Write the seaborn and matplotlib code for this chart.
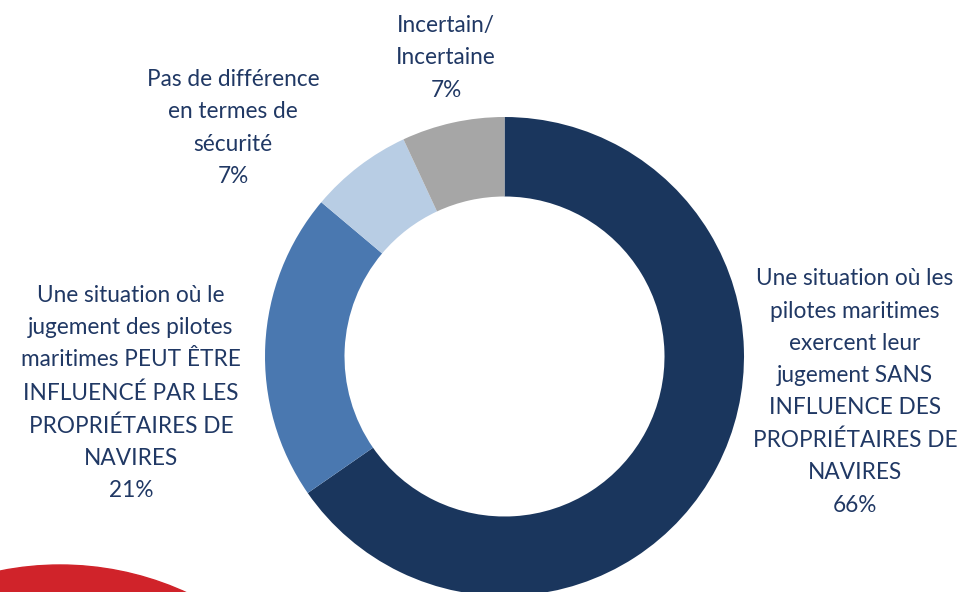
import matplotlib
matplotlib.use('Agg')
import matplotlib.pyplot as plt
import matplotlib.patches as mpatches
import seaborn as sns


sns.set_theme(style='white')
plt.rcParams['font.family'] = ['Lato', 'DejaVu Sans']

# data, clockwise from 12 o'clock
labels = [
    'Une situation où les\npilotes maritimes\nexercent leur\njugement SANS\nINFLUENCE DES\nPROPRIÉTAIRES DE\nNAVIRES',
    'Une situation où le\njugement des pilotes\nmaritimes PEUT ÊTRE\nINFLUENCÉ PAR LES\nPROPRIÉTAIRES DE\nNAVIRES',
    'Pas de différence\nen termes de\nsécurité',
    'Incertain/\nIncertaine',
]
shares = [66, 21, 7, 7]
colors = ['#1A365D', '#4A78B0', '#B8CDE4', '#A6A6A6']
text_color = '#203864'

# label anchor positions in pixels (x, y from top)
label_pos = [(855, 392), (131, 393), (233, 128), (446, 58)]


fig = plt.figure(figsize=(9.69, 5.92), dpi=100)
ax = fig.add_axes([0, 0, 1, 1])

# red decoration at the bottom left
ax.add_patch(mpatches.Circle((60, 592 - 565 - 303), 303, color='#D0232A', zorder=0))

ax.pie(
    shares,
    colors=colors,
    startangle=90,
    counterclock=False,
    center=(504.5, 592 - 356.5),
    radius=239.5,
    wedgeprops=dict(width=79.5, linewidth=0),
    frame=True,
)
ax.set_xlim(0, 969)
ax.set_ylim(0, 592)
ax.set_aspect('equal')
ax.axis('off')

for lab, val, (x, y) in zip(labels, shares, label_pos):
    ax.text(
        x, 592 - y, f'{lab}\n{val}%',
        ha='center', va='center',
        fontsize=16.3, color=text_color, linespacing=1.66,
    )

fig.savefig('out.png', dpi=100)
